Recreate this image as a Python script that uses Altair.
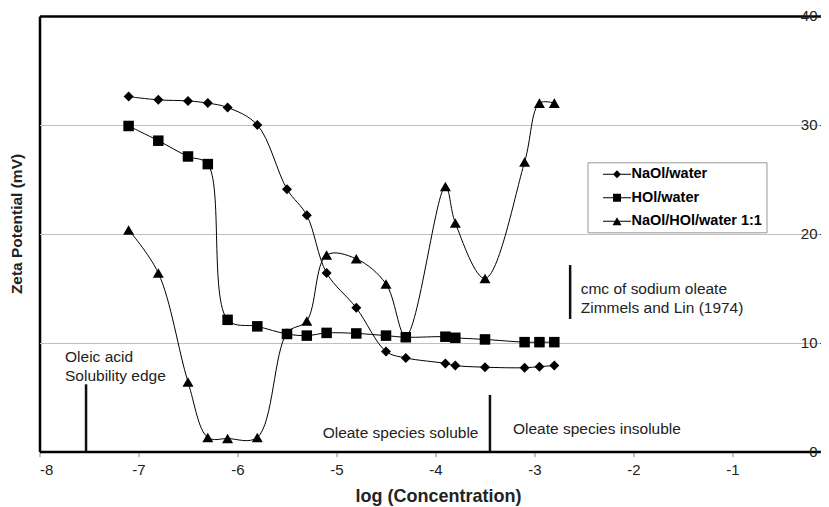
import altair as alt
import pandas as pd

# ---- data ----
log_conc = [-7.1, -6.8, -6.5, -6.3, -6.1, -5.8, -5.5, -5.3, -5.1, -4.8, -4.5, -4.3,
            -3.9, -3.8, -3.5, -3.1, -2.95, -2.8]
naol_water = [32.6, 32.3, 32.2, 32.0, 31.6, 30.0, 24.1, 21.7, 16.4, 13.2, 9.2, 8.6,
              8.1, 7.9, 7.75, 7.7, 7.8, 7.9]
hol_water = [29.9, 28.55, 27.1, 26.4, 12.1, 11.5, 10.8, 10.65, 10.9, 10.85, 10.65, 10.5,
             10.55, 10.45, 10.3, 10.05, 10.05, 10.05]
mix_water = [20.35, 16.4, 6.4, 1.3, 1.2, 1.3, 10.9, 12.0, 18.05, 17.7, 15.4, 10.6,
             24.35, 21.0, 15.9, 26.6, 32.0, 32.0]
series_names = ["NaOl/water", "HOl/water", "NaOl/HOl/water 1:1"]

x_ticks = [-8, -7, -6, -5, -4, -3, -2, -1, 0]
y_ticks = [0, 10, 20, 30, 40]

ann_text = ["Oleic acid", "Solubility edge", "Oleate species soluble",
            "Oleate species insoluble", "cmc of sodium oleate", "Zimmels and Lin (1974)"]
ann_x = [-7.742, -7.742, -5.14, -3.217, -2.533, -2.533]
ann_y = [8.66, 6.94, 1.68, 2.08, 14.93, 13.21]

rule_x = [-7.53, -3.45, -2.64]
rule_y = [0, 0, 12.18]
rule_y2 = [6.18, 5.2, 17.13]

# ---- tables ----
rows = []
for name, vals in [(series_names[2], mix_water), (series_names[0], naol_water),
                   (series_names[1], hol_water)]:
    for xv, yv in zip(log_conc, vals):
        rows.append({"x": xv, "y": yv, "series": name})
df = pd.DataFrame(rows)
ann_df = pd.DataFrame({"x": ann_x, "y": ann_y, "text": ann_text})
rule_df = pd.DataFrame({"x": rule_x, "y": rule_y, "y2": rule_y2})

W, H = 781.5, 435.6      # drawn width (page limit); x scale runs on past it
XR = 792                 # pixel length of the -8..0 range
FONT = "Liberation Sans"

xs = alt.Scale(domain=[-8, 0], range=[0, XR], nice=False, zero=False)
ys = alt.Scale(domain=[0, 40], nice=False, zero=False)

x_axis = alt.Axis(values=x_ticks, grid=True,
                  gridColor={"condition": {"test": "datum.value === -8", "value": "black"},
                             "value": "transparent"},
                  gridWidth=2.5,
                  domain=True, domainColor="black",
                  domainWidth=2.5, ticks=True, tickSize=5, tickColor="#888",
                  labelFontSize=15, labelColor="#222", labelPadding=6, labelFont=FONT,
                  labelExpr="datum.value < 0 ? '-' + abs(datum.value) : '' + datum.value",
                  title="log (Concentration)", titleFont=FONT, titleFontSize=18,
                  titleFontWeight="bold", titleColor="#222", titleX=398.5, titleY=50,
                  titleBaseline="alphabetic", titleAlign="center")
y_axis = alt.Axis(orient="left", offset=-XR, values=y_ticks, grid=True,
                  gridColor={"condition": {"test": "datum.value === 40", "value": "black"},
                             "value": "#c0c0c0"},
                  gridWidth={"condition": {"test": "datum.value === 40", "value": 2.5},
                             "value": 1},
                  domain=False, ticks=True, tickSize=12, tickColor="#444",
                  labelFontSize=15, labelColor="#222", labelPadding=2.5, labelFont=FONT,
                  title="Zeta Potential (mV)", titleFont=FONT, titleFontSize=15.5,
                  titleFontWeight="bold", titleColor="#222", titleAngle=-90,
                  titleX=-815, titleY=207.5, titleAlign="center", titleBaseline="middle")

X = alt.X("x:Q", scale=xs, axis=x_axis)
Y = alt.Y("y:Q", scale=ys, axis=y_axis)

lines = alt.Chart(df).mark_line(color="black", strokeWidth=1, interpolate="catmull-rom").encode(
    x=X, y=Y, detail="series:N")

points = alt.Chart(df).mark_point(filled=True, color="black", opacity=1).encode(
    x=X, y=Y,
    shape=alt.Shape("series:N", scale=alt.Scale(domain=series_names,
                                                range=["diamond", "square", "triangle-up"]),
                    legend=None),
    size=alt.Size("series:N", scale=alt.Scale(domain=series_names, range=[100, 121, 130]),
                  legend=None),
)

# legend glyphs: a thin filled bar (the line) plus the marker, in symbol units
leg_paths = [
    "M-1.75,-0.06H1.75V0.06H-1.75ZM0,-0.5L0.5,0L0,0.5L-0.5,0Z",
    "M-1.75,-0.06H1.75V0.06H-1.75ZM-0.5,-0.5H0.5V0.5H-0.5Z",
    "M-1.75,-0.06H1.75V0.06H-1.75ZM0,-0.5L0.56,0.5H-0.56Z",
]
legend_layer = alt.Chart(df).mark_point(filled=True, color="black", opacity=0).encode(
    x=X, y=Y,
    shape=alt.Shape("series:N", scale=alt.Scale(domain=series_names, range=leg_paths),
                    legend=alt.Legend(title=None, orient="none", legendX=548, legendY=146.3,
                                      padding=4, symbolOffset=17.5, symbolSize=256,
                                      symbolStrokeWidth=0, symbolFillColor="black",
                                      symbolOpacity=1,
                                      labelFont=FONT, labelFontSize=14.5,
                                      labelFontWeight="bold", labelColor="black",
                                      labelOffset=6.5, rowPadding=8.5, strokeColor="#999",
                                      fillColor="white",
                                      labelExpr="datum.label + '\u00a0\u00a0\u00a0\u00a0'")),
)

rules = alt.Chart(rule_df).mark_rule(color="#111", strokeWidth=2.5).encode(
    x=X, y=alt.Y("y:Q", scale=ys, axis=y_axis), y2="y2:Q")

texts = alt.Chart(ann_df).mark_text(align="left", baseline="middle", font=FONT,
                                    fontSize=15.5, color="#222").encode(
    x=X, y=Y, text="text:N")

chart = alt.layer(lines, legend_layer, points, rules, texts).resolve_scale(
    shape="independent", size="independent"
).properties(
    width=W, height=H,
    autosize=alt.AutoSizeParams(type="none"),
    padding={"left": 31.5, "top": 8, "right": 0, "bottom": 58},
    background="white",
).configure_view(stroke=None).configure(font=FONT)

chart.save("out.html", embed_options={"renderer": "svg", "actions": False})
